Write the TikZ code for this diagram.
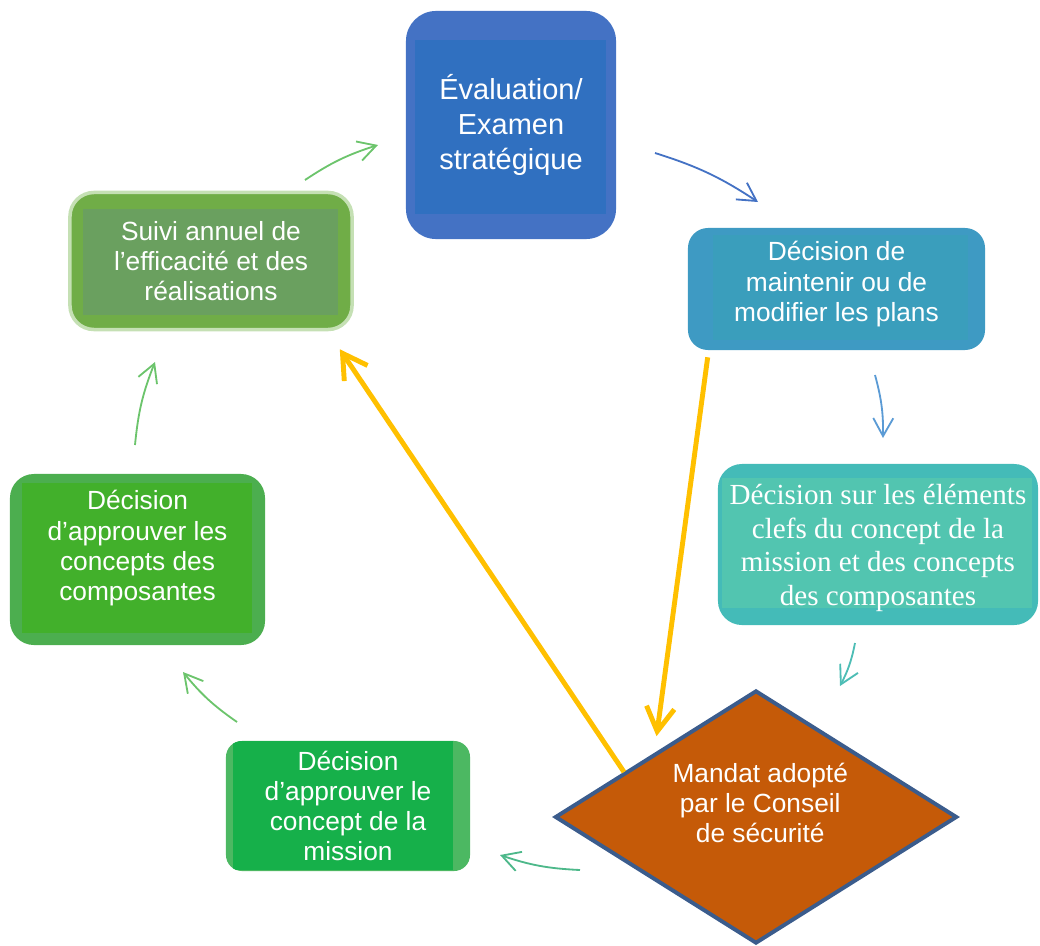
\documentclass[tikz,border=0pt]{standalone}
\usepackage{fontspec}
\setmainfont{Liberation Sans}
\newfontfamily\timesfont{Liberation Serif}
\usetikzlibrary{shapes.geometric, arrows.meta, calc}

\definecolor{evalOut}{HTML}{4472C4}
\definecolor{evalIn}{HTML}{3070C0}
\definecolor{maintOut}{HTML}{3E9AC3}
\definecolor{maintIn}{HTML}{3A9EBC}
\definecolor{elemOut}{HTML}{44BBB8}
\definecolor{elemIn}{HTML}{52C5B0}
\definecolor{mandatFond}{HTML}{C55A08}
\definecolor{mandatBord}{HTML}{3B5C8C}
\definecolor{missionOut}{HTML}{4CB862}
\definecolor{missionIn}{HTML}{16B04A}
\definecolor{composOut}{HTML}{4CAE4F}
\definecolor{composIn}{HTML}{42B02B}
\definecolor{suiviOut}{HTML}{70AD47}
\definecolor{suiviIn}{HTML}{6AA05F}
\definecolor{suiviHalo}{HTML}{C5E0B4}
\definecolor{jauneFleche}{HTML}{FFC000}
\definecolor{flecheVert}{HTML}{6CC46C}
\definecolor{flecheBleu}{HTML}{4472C4}
\definecolor{flecheCiel}{HTML}{5B9BD5}
\definecolor{flecheTurq}{HTML}{4DBDB5}
\definecolor{flecheVertEau}{HTML}{4DB88A}

\tikzset{
etape/.style={rectangle, rounded corners=#1, align=center, text=white, inner sep=0pt,
  font=\fontsize{18.7}{21.5}\selectfont}, % boites du cycle
interieur/.style n args={5}{path picture={\fill[#1, sharp corners]
  ([shift={(#2,#3)}]path picture bounding box.south west) rectangle
  ([shift={(-#4,-#5)}]path picture bounding box.north east);}}, % rectangle interieur
fleche/.style={-{Straight Barb[length=4.5mm,width=5mm]}, line width=1.3pt, draw=#1, bend left=8},
jaune/.style={-{Straight Barb[length=6mm,width=7mm]}, line width=3.5pt, draw=jauneFleche},
texte/.style={align=center, text=white, font=\fontsize{18.7}{21.5}\selectfont},
}

\begin{document}
\begin{tikzpicture}[x=0.025cm, y=-0.025cm]
\useasboundingbox (0,0) rectangle (1040,946);

% les boites
\node[etape=0.75cm, fill=evalOut, interieur={evalIn}{6.4pt}{17.7pt}{7pt}{21pt},
  minimum width=5.25cm, minimum height=5.7cm, font=\fontsize{20.6}{24.8}\selectfont]
  (eval) at (511,125) {Évaluation/\\Examen\\stratégique};
\node[etape=0.5cm, fill=maintOut, interieur={maintIn}{17.7pt}{7pt}{12pt}{5pt},
  minimum width=7.425cm, minimum height=3.05cm, label={[texte, yshift=3.5pt]center:{Décision de\\maintenir ou de\\modifier les plans}}]
  (maint) at (836.5,289) {};
\node[etape=0.6cm, fill=elemOut, interieur={elemIn}{2.8pt}{12pt}{4.3pt}{10pt},
  minimum width=8cm, minimum height=4.025cm,
  label={[texte, yshift=-2.5pt, font=\timesfont\fontsize{20.7}{23.8}\selectfont]center:{Décision sur les éléments\\clefs du concept de la\\mission et des concepts\\des composantes}}]
  (elem) at (878,544.5) {};
\node[diamond, draw=mandatBord, line width=2.8pt, fill=mandatFond, inner sep=0pt,
  minimum width=10.05cm, minimum height=6.325cm,
  label={[texte, xshift=3pt, yshift=10pt]center:{Mandat adopté\\par le Conseil\\de sécurité}}]
  (mandat) at (756,817) {};
\node[etape=0.4cm, fill=missionOut, interieur={missionIn}{5pt}{1pt}{12pt}{0pt},
  minimum width=6.1cm, minimum height=3.25cm]
  (mission) at (348,806) {Décision\\d’approuver le\\concept de la\\mission};
\node[etape=0.6cm, fill=composOut, interieur={composIn}{8.5pt}{8.5pt}{9.2pt}{6.4pt},
  minimum width=6.375cm, minimum height=4.275cm,
  label={[texte, yshift=8pt]center:{Décision\\d’approuver les\\concepts des\\composantes}}]
  (compos) at (137.5,559.5) {};
\node[etape=0.6cm, fill=suiviOut, draw=suiviHalo, line width=2.5pt,
  interieur={suiviIn}{9.2pt}{10.6pt}{10pt}{12pt},
  minimum width=7.05cm, minimum height=3.425cm]
  (suivi) at (211,261) {Suivi annuel de\\l’efficacité et des\\réalisations};

% extremites des petites fleches
\coordinate (depSuivi) at (305,180);
\coordinate (arrEval) at (378,145);
\coordinate (depEval) at (655,153);
\coordinate (arrMaint) at (758,202);
\coordinate (depMaint) at (875,375);
\coordinate (arrElem) at (883,438);
\coordinate (depElem) at (855,643);
\coordinate (arrMandat) at (840,686);
\coordinate (depMandat) at (580,870);
\coordinate (arrMission) at (500,855);
\coordinate (depMission) at (237,722);
\coordinate (arrCompos) at (183,672);
\coordinate (depCompos) at (135,445);
\coordinate (arrSuivi) at (155,362);

\draw[fleche=flecheVert] (depSuivi) to (arrEval);
\draw[fleche=flecheBleu] (depEval) to (arrMaint);
\draw[fleche=flecheCiel] (depMaint) to (arrElem);
\draw[fleche=flecheTurq] (depElem) to (arrMandat);
\draw[fleche=flecheVertEau] (depMandat) to (arrMission);
\draw[fleche=flecheVert] (depMission) to (arrCompos);
\draw[fleche=flecheVert] (depCompos) to (arrSuivi);

% fleches jaunes
\draw[jaune] ($(mandat.west)!0.35!(mandat.north)$) -- ([shift={(-14,18)}]suivi.south east);
\draw[jaune] ([shift={(20,7)}]maint.south west) -- ([shift={(-2,-14)}]$(mandat.west)!0.52!(mandat.north)$);

\end{tikzpicture}
\end{document}
